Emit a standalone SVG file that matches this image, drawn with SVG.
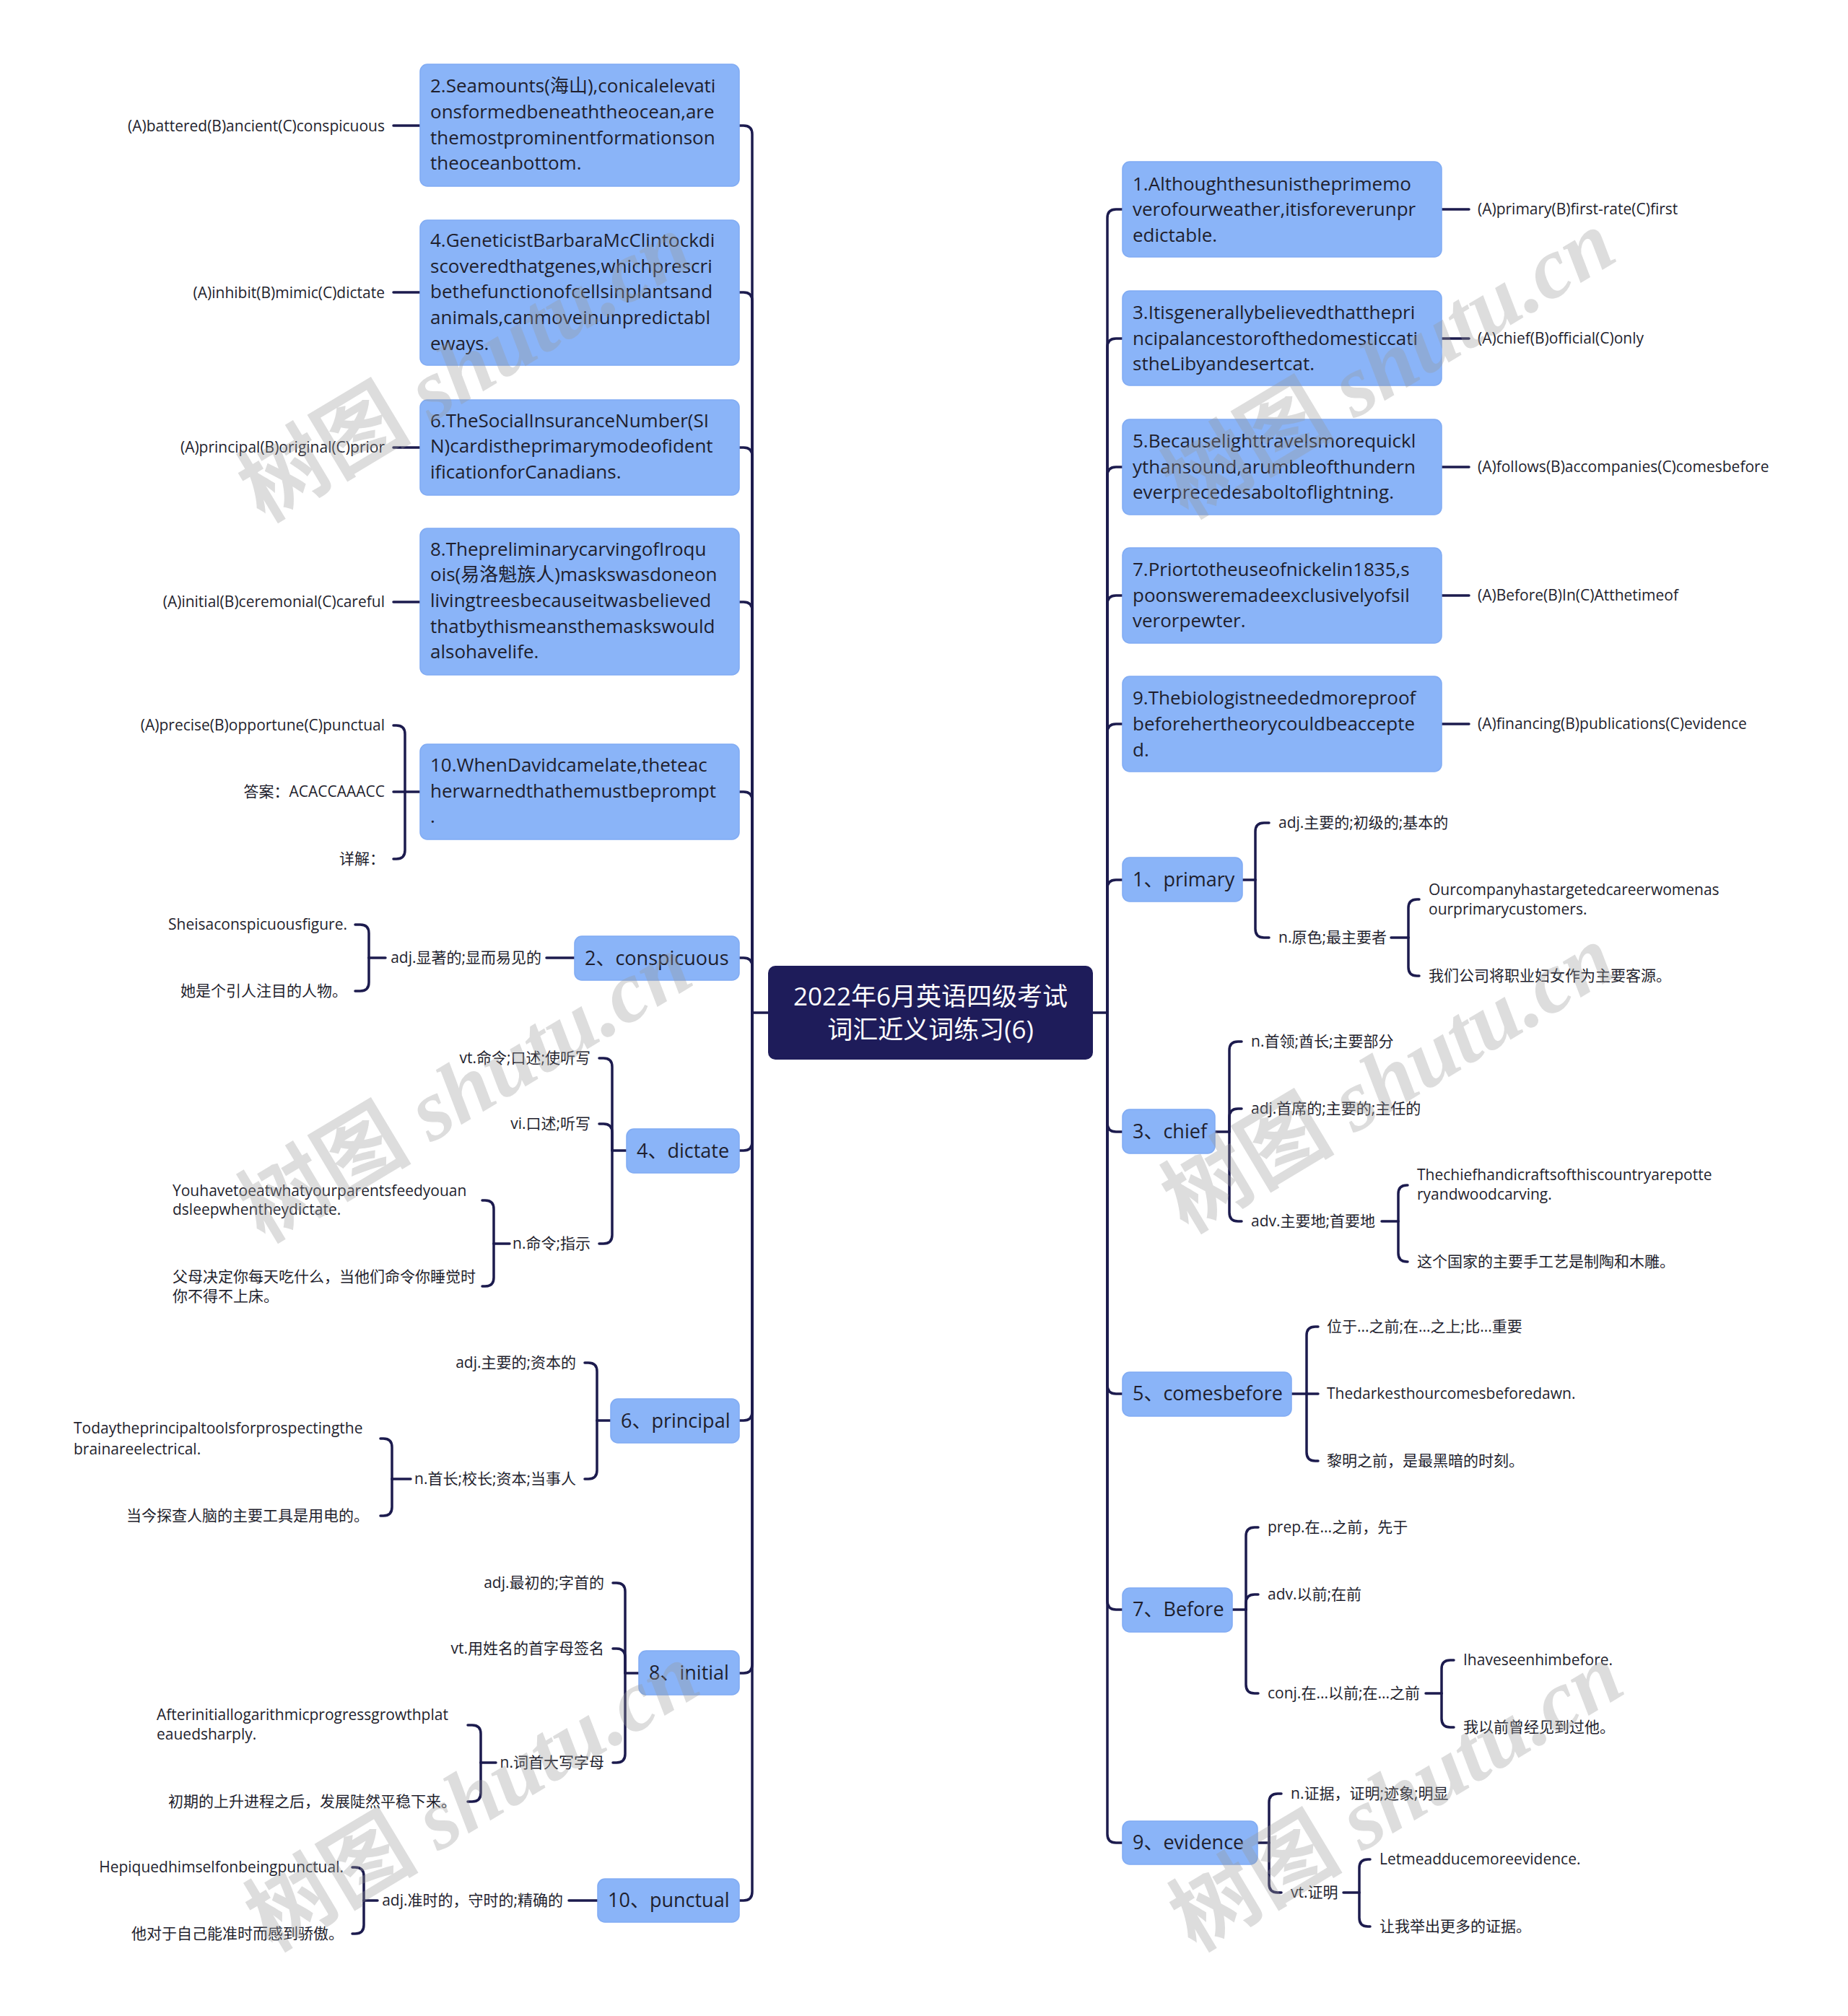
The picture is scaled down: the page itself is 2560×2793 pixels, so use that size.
<svg xmlns="http://www.w3.org/2000/svg" width="2560" height="2793" viewBox="0 0 2560 2793">
<style>
.bg{fill:#ffffff}
.box{fill:#8ab4f8;stroke:#80abf3;stroke-width:1.5}
.root{fill:#1e1c5a}
.t{font-family:"Open Sans","Noto Sans CJK SC",sans-serif;fill:#1f1f2e}
.s{font-size:21px}
.q{font-size:26px}
.k{font-size:27px}
.r{font-size:35px;fill:#ffffff;text-anchor:middle}
.e{text-anchor:end}
.conn path{fill:none;stroke:#1c1b4e;stroke-width:3.5;stroke-linecap:round}
.wm{font-family:"Liberation Serif","Noto Sans CJK SC",serif;font-size:120px;font-weight:bold;fill:#999999;opacity:0.33;text-anchor:middle}
</style>
<rect class="bg" x="0" y="0" width="2560" height="2793"/>

<g id="connectors" class="conn">
<path d="M1064,1403 H1042"/>
<path d="M1042,1403 V186 Q1042,174 1030,174 H1024"/>
<path d="M1042,1403 V417 Q1042,405 1030,405 H1024"/>
<path d="M1042,1403 V632 Q1042,620 1030,620 H1024"/>
<path d="M1042,1403 V846 Q1042,834 1030,834 H1024"/>
<path d="M1042,1403 V1109 Q1042,1097 1030,1097 H1024"/>
<path d="M1042,1403 V1339 Q1042,1327 1030,1327 H1024"/>
<path d="M1042,1403 V1582 Q1042,1594 1030,1594 H1024"/>
<path d="M1042,1403 V1956 Q1042,1968 1030,1968 H1024"/>
<path d="M1042,1403 V2306 Q1042,2318 1030,2318 H1024"/>
<path d="M1042,1403 V2621 Q1042,2633 1030,2633 H1024"/>
<path d="M1514,1403 H1534"/>
<path d="M1534,1403 V302 Q1534,290 1546,290 H1555"/>
<path d="M1534,1403 V481 Q1534,469 1546,469 H1555"/>
<path d="M1534,1403 V659 Q1534,647 1546,647 H1555"/>
<path d="M1534,1403 V837 Q1534,825 1546,825 H1555"/>
<path d="M1534,1403 V1015 Q1534,1003 1546,1003 H1555"/>
<path d="M1534,1403 V1231 Q1534,1219 1546,1219 H1555"/>
<path d="M1534,1403 V1556 Q1534,1568 1546,1568 H1555"/>
<path d="M1534,1403 V1919 Q1534,1931 1546,1931 H1555"/>
<path d="M1534,1403 V2218 Q1534,2230 1546,2230 H1555"/>
<path d="M1534,1403 V2541 Q1534,2553 1546,2553 H1555"/>
<path d="M582,174 H545"/>
<path d="M582,405 H545"/>
<path d="M582,620 H545"/>
<path d="M582,834 H545"/>
<path d="M1997,290 H2035"/>
<path d="M1997,469 H2035"/>
<path d="M1997,647 H2035"/>
<path d="M1997,825 H2035"/>
<path d="M1997,1003 H2035"/>
<path d="M582,1097 H561"/>
<path d="M561,1097 V1017 Q561,1005 549,1005 H545"/>
<path d="M561,1097 H545"/>
<path d="M561,1097 V1178 Q561,1190 549,1190 H545"/>
<path d="M796,1327 H757"/>
<path d="M534,1327 H511"/>
<path d="M511,1327 V1293 Q511,1281 499,1281 H492"/>
<path d="M511,1327 V1361 Q511,1373 499,1373 H492"/>
<path d="M868,1594 H848"/>
<path d="M848,1594 V1478 Q848,1466 836,1466 H830"/>
<path d="M848,1594 V1569 Q848,1557 836,1557 H830"/>
<path d="M848,1594 V1711 Q848,1723 836,1723 H830"/>
<path d="M706,1723 H684"/>
<path d="M684,1723 V1675 Q684,1663 672,1663 H668"/>
<path d="M684,1723 V1770 Q684,1782 672,1782 H668"/>
<path d="M846,1968 H827"/>
<path d="M827,1968 V1900 Q827,1888 815,1888 H810"/>
<path d="M827,1968 V2037 Q827,2049 815,2049 H810"/>
<path d="M569,2049 H543"/>
<path d="M543,2049 V2005 Q543,1993 531,1993 H527"/>
<path d="M543,2049 V2088 Q543,2100 531,2100 H527"/>
<path d="M885,2318 H866"/>
<path d="M866,2318 V2205 Q866,2193 854,2193 H849"/>
<path d="M866,2318 V2296 Q866,2284 854,2284 H849"/>
<path d="M866,2318 V2430 Q866,2442 854,2442 H849"/>
<path d="M687,2442 H666"/>
<path d="M666,2442 V2402 Q666,2390 654,2390 H648"/>
<path d="M666,2442 V2484 Q666,2496 654,2496 H648"/>
<path d="M828,2633 H788"/>
<path d="M523,2633 H504"/>
<path d="M504,2633 V2599 Q504,2587 492,2587 H488"/>
<path d="M504,2633 V2667 Q504,2679 492,2679 H488"/>
<path d="M1721,1219 H1739"/>
<path d="M1739,1219 V1152 Q1739,1140 1751,1140 H1758"/>
<path d="M1739,1219 V1287 Q1739,1299 1751,1299 H1758"/>
<path d="M1927,1299 H1951"/>
<path d="M1951,1299 V1258 Q1951,1246 1963,1246 H1966"/>
<path d="M1951,1299 V1340 Q1951,1352 1963,1352 H1966"/>
<path d="M1683,1568 H1703"/>
<path d="M1703,1568 V1455 Q1703,1443 1715,1443 H1720"/>
<path d="M1703,1568 V1548 Q1703,1536 1715,1536 H1720"/>
<path d="M1703,1568 V1680 Q1703,1692 1715,1692 H1720"/>
<path d="M1914,1692 H1937"/>
<path d="M1937,1692 V1654 Q1937,1642 1949,1642 H1950"/>
<path d="M1937,1692 V1736 Q1937,1748 1949,1748 H1950"/>
<path d="M1789,1931 H1810"/>
<path d="M1810,1931 V1850 Q1810,1838 1822,1838 H1826"/>
<path d="M1810,1931 H1826"/>
<path d="M1810,1931 V2012 Q1810,2024 1822,2024 H1826"/>
<path d="M1707,2230 H1726"/>
<path d="M1726,2230 V2128 Q1726,2116 1738,2116 H1743"/>
<path d="M1726,2230 V2221 Q1726,2209 1738,2209 H1743"/>
<path d="M1726,2230 V2334 Q1726,2346 1738,2346 H1743"/>
<path d="M1975,2346 H1997"/>
<path d="M1997,2346 V2312 Q1997,2300 2009,2300 H2014"/>
<path d="M1997,2346 V2381 Q1997,2393 2009,2393 H2014"/>
<path d="M1742,2553 H1758"/>
<path d="M1758,2553 V2497 Q1758,2485 1770,2485 H1775"/>
<path d="M1758,2553 V2610 Q1758,2622 1770,2622 H1775"/>
<path d="M1861,2622 H1883"/>
<path d="M1883,2622 V2588 Q1883,2576 1895,2576 H1898"/>
<path d="M1883,2622 V2657 Q1883,2669 1895,2669 H1898"/>
</g>

<g id="root-node">
<rect class="root" x="1064" y="1338" width="450" height="130" rx="10"/>
<text class="t r" x="1289" y="1393">2022年6月英语四级考试</text>
<text class="t r" x="1289" y="1439">词汇近义词练习(6)</text>
</g>

<!-- Left question boxes -->
<g id="q2">
<rect class="box" x="582" y="89" width="442" height="169" rx="10"/>
<text class="t q" x="596" y="128">2.Seamounts(海山),conicalelevati</text>
<text class="t q" x="596" y="164">onsformedbeneaththeocean,are</text>
<text class="t q" x="596" y="200">themostprominentformationson</text>
<text class="t q" x="596" y="235">theoceanbottom.</text>
</g>
<g id="q2-opt"><text class="t s e" x="533" y="182">(A)battered(B)ancient(C)conspicuous</text></g>

<g id="q4">
<rect class="box" x="582" y="305" width="442" height="201" rx="10"/>
<text class="t q" x="596" y="342">4.GeneticistBarbaraMcClintockdi</text>
<text class="t q" x="596" y="378">scoveredthatgenes,whichprescri</text>
<text class="t q" x="596" y="413">bethefunctionofcellsinplantsand</text>
<text class="t q" x="596" y="449">animals,canmoveinunpredictabl</text>
<text class="t q" x="596" y="485">eways.</text>
</g>
<g id="q4-opt"><text class="t s e" x="533" y="413">(A)inhibit(B)mimic(C)dictate</text></g>

<g id="q6">
<rect class="box" x="582" y="554" width="442" height="132" rx="10"/>
<text class="t q" x="596" y="592">6.TheSocialInsuranceNumber(SI</text>
<text class="t q" x="596" y="627">N)cardistheprimarymodeofident</text>
<text class="t q" x="596" y="663">ificationforCanadians.</text>
</g>
<g id="q6-opt"><text class="t s e" x="533" y="627">(A)principal(B)original(C)prior</text></g>

<g id="q8">
<rect class="box" x="582" y="732" width="442" height="203" rx="10"/>
<text class="t q" x="596" y="770">8.ThepreliminarycarvingofIroqu</text>
<text class="t q" x="596" y="805">ois(易洛魁族人)maskswasdoneon</text>
<text class="t q" x="596" y="841">livingtreesbecauseitwasbelieved</text>
<text class="t q" x="596" y="877">thatbythismeansthemaskswould</text>
<text class="t q" x="596" y="912">alsohavelife.</text>
</g>
<g id="q8-opt"><text class="t s e" x="533" y="841">(A)initial(B)ceremonial(C)careful</text></g>

<g id="q10">
<rect class="box" x="582" y="1031" width="442" height="132" rx="10"/>
<text class="t q" x="596" y="1069">10.WhenDavidcamelate,theteac</text>
<text class="t q" x="596" y="1105">herwarnedthathemustbeprompt</text>
<text class="t q" x="596" y="1140">.</text>
</g>
<g id="q10-opt"><text class="t s e" x="533" y="1012">(A)precise(B)opportune(C)punctual</text></g>
<g id="q10-ans"><text class="t s e" x="533" y="1104">答案：ACACCAAACC</text></g>
<g id="q10-exp"><text class="t s e" x="533" y="1197">详解：</text></g>

<!-- Left keyword nodes -->
<g id="w2">
<rect class="box" x="796" y="1297" width="228" height="61" rx="10"/>
<text class="t k" x="810" y="1337">2、conspicuous</text>
</g>
<g id="w2-adj"><text class="t s e" x="750" y="1334">adj.显著的;显而易见的</text></g>
<g id="w2-ex1"><text class="t s e" x="481" y="1288">Sheisaconspicuousfigure.</text></g>
<g id="w2-ex2"><text class="t s e" x="481" y="1380">她是个引人注目的人物。</text></g>

<g id="w4">
<rect class="box" x="868" y="1564" width="156" height="61" rx="10"/>
<text class="t k" x="882" y="1604">4、dictate</text>
</g>
<g id="w4-vt"><text class="t s e" x="818" y="1473">vt.命令;口述;使听写</text></g>
<g id="w4-vi"><text class="t s e" x="818" y="1564">vi.口述;听写</text></g>
<g id="w4-n"><text class="t s e" x="818" y="1730">n.命令;指示</text></g>
<g id="w4-ex1"><text class="t s" x="239" y="1657">Youhavetoeatwhatyourparentsfeedyouan</text><text class="t s" x="239" y="1683">dsleepwhentheydictate.</text></g>
<g id="w4-ex2"><text class="t s" x="239" y="1776">父母决定你每天吃什么，当他们命令你睡觉时</text><text class="t s" x="239" y="1803">你不得不上床。</text></g>

<g id="w6">
<rect class="box" x="846" y="1938" width="178" height="61" rx="10"/>
<text class="t k" x="860" y="1978">6、principal</text>
</g>
<g id="w6-adj"><text class="t s e" x="798" y="1895">adj.主要的;资本的</text></g>
<g id="w6-n"><text class="t s e" x="798" y="2056">n.首长;校长;资本;当事人</text></g>
<g id="w6-ex1"><text class="t s" x="102" y="1986">Todaytheprincipaltoolsforprospectingthe</text><text class="t s" x="102" y="2015">brainareelectrical.</text></g>
<g id="w6-ex2"><text class="t s e" x="511" y="2107">当今探查人脑的主要工具是用电的。</text></g>

<g id="w8">
<rect class="box" x="885" y="2287" width="139" height="61" rx="10"/>
<text class="t k" x="899" y="2327">8、initial</text>
</g>
<g id="w8-adj"><text class="t s e" x="837" y="2200">adj.最初的;字首的</text></g>
<g id="w8-vt"><text class="t s e" x="837" y="2291">vt.用姓名的首字母签名</text></g>
<g id="w8-n"><text class="t s e" x="837" y="2449">n.词首大写字母</text></g>
<g id="w8-ex1"><text class="t s" x="217" y="2383">Afterinitiallogarithmicprogressgrowthplat</text><text class="t s" x="217" y="2410">eauedsharply.</text></g>
<g id="w8-ex2"><text class="t s e" x="632" y="2503">初期的上升进程之后，发展陡然平稳下来。</text></g>

<g id="w10">
<rect class="box" x="828" y="2603" width="196" height="60" rx="10"/>
<text class="t k" x="842" y="2642">10、punctual</text>
</g>
<g id="w10-adj"><text class="t s e" x="780" y="2640">adj.准时的，守时的;精确的</text></g>
<g id="w10-ex1"><text class="t s e" x="476" y="2594">Hepiquedhimselfonbeingpunctual.</text></g>
<g id="w10-ex2"><text class="t s e" x="476" y="2686">他对于自己能准时而感到骄傲。</text></g>

<!-- Right question boxes -->
<g id="q1">
<rect class="box" x="1555" y="224" width="442" height="132" rx="10"/>
<text class="t q" x="1569" y="264">1.Althoughthesunistheprimemo</text>
<text class="t q" x="1569" y="299">verofourweather,itisforeverunpr</text>
<text class="t q" x="1569" y="335">edictable.</text>
</g>
<g id="q1-opt"><text class="t s" x="2047" y="297">(A)primary(B)first-rate(C)first</text></g>

<g id="q3">
<rect class="box" x="1555" y="403" width="442" height="131" rx="10"/>
<text class="t q" x="1569" y="442">3.Itisgenerallybelievedthatthepri</text>
<text class="t q" x="1569" y="478">ncipalancestorofthedomesticcati</text>
<text class="t q" x="1569" y="513">stheLibyandesertcat.</text>
</g>
<g id="q3-opt"><text class="t s" x="2047" y="476">(A)chief(B)official(C)only</text></g>

<g id="q5">
<rect class="box" x="1555" y="581" width="442" height="132" rx="10"/>
<text class="t q" x="1569" y="620">5.Becauselighttravelsmorequickl</text>
<text class="t q" x="1569" y="656">ythansound,arumbleofthundern</text>
<text class="t q" x="1569" y="691">everprecedesaboltoflightning.</text>
</g>
<g id="q5-opt"><text class="t s" x="2047" y="654">(A)follows(B)accompanies(C)comesbefore</text></g>

<g id="q7">
<rect class="box" x="1555" y="759" width="442" height="132" rx="10"/>
<text class="t q" x="1569" y="798">7.Priortotheuseofnickelin1835,s</text>
<text class="t q" x="1569" y="834">poonsweremadeexclusivelyofsil</text>
<text class="t q" x="1569" y="869">verorpewter.</text>
</g>
<g id="q7-opt"><text class="t s" x="2047" y="832">(A)Before(B)In(C)Atthetimeof</text></g>

<g id="q9">
<rect class="box" x="1555" y="937" width="442" height="132" rx="10"/>
<text class="t q" x="1569" y="976">9.Thebiologistneededmoreproof</text>
<text class="t q" x="1569" y="1012">beforehertheorycouldbeaccepte</text>
<text class="t q" x="1569" y="1048">d.</text>
</g>
<g id="q9-opt"><text class="t s" x="2047" y="1010">(A)financing(B)publications(C)evidence</text></g>

<!-- Right keyword nodes -->
<g id="w1">
<rect class="box" x="1555" y="1188" width="166" height="61" rx="10"/>
<text class="t k" x="1569" y="1228">1、primary</text>
</g>
<g id="w1-adj"><text class="t s" x="1771" y="1147">adj.主要的;初级的;基本的</text></g>
<g id="w1-n"><text class="t s" x="1771" y="1306">n.原色;最主要者</text></g>
<g id="w1-ex1"><text class="t s" x="1979" y="1240">Ourcompanyhastargetedcareerwomenas</text><text class="t s" x="1979" y="1267">ourprimarycustomers.</text></g>
<g id="w1-ex2"><text class="t s" x="1979" y="1359">我们公司将职业妇女作为主要客源。</text></g>

<g id="w3">
<rect class="box" x="1555" y="1537" width="128" height="61" rx="10"/>
<text class="t k" x="1569" y="1577">3、chief</text>
</g>
<g id="w3-n"><text class="t s" x="1733" y="1450">n.首领;酋长;主要部分</text></g>
<g id="w3-adj"><text class="t s" x="1733" y="1543">adj.首席的;主要的;主任的</text></g>
<g id="w3-adv"><text class="t s" x="1733" y="1699">adv.主要地;首要地</text></g>
<g id="w3-ex1"><text class="t s" x="1963" y="1635">Thechiefhandicraftsofthiscountryarepotte</text><text class="t s" x="1963" y="1662">ryandwoodcarving.</text></g>
<g id="w3-ex2"><text class="t s" x="1963" y="1755">这个国家的主要手工艺是制陶和木雕。</text></g>

<g id="w5">
<rect class="box" x="1555" y="1901" width="234" height="61" rx="10"/>
<text class="t k" x="1569" y="1940">5、comesbefore</text>
</g>
<g id="w5-m"><text class="t s" x="1838" y="1845">位于...之前;在...之上;比...重要</text></g>
<g id="w5-ex1"><text class="t s" x="1838" y="1938">Thedarkesthourcomesbeforedawn.</text></g>
<g id="w5-ex2"><text class="t s" x="1838" y="2031">黎明之前，是最黑暗的时刻。</text></g>

<g id="w7">
<rect class="box" x="1555" y="2200" width="152" height="61" rx="10"/>
<text class="t k" x="1569" y="2239">7、Before</text>
</g>
<g id="w7-prep"><text class="t s" x="1756" y="2123">prep.在...之前，先于</text></g>
<g id="w7-adv"><text class="t s" x="1756" y="2216">adv.以前;在前</text></g>
<g id="w7-conj"><text class="t s" x="1756" y="2353">conj.在...以前;在...之前</text></g>
<g id="w7-ex1"><text class="t s" x="2027" y="2307">Ihaveseenhimbefore.</text></g>
<g id="w7-ex2"><text class="t s" x="2027" y="2400">我以前曾经见到过他。</text></g>

<g id="w9">
<rect class="box" x="1555" y="2523" width="187" height="60" rx="10"/>
<text class="t k" x="1569" y="2562">9、evidence</text>
</g>
<g id="w9-n"><text class="t s" x="1788" y="2492">n.证据，证明;迹象;明显</text></g>
<g id="w9-vt"><text class="t s" x="1788" y="2629">vt.证明</text></g>
<g id="w9-ex1"><text class="t s" x="1911" y="2583">Letmeadducemoreevidence.</text></g>
<g id="w9-ex2"><text class="t s" x="1911" y="2676">让我举出更多的证据。</text></g>

<g id="watermarks">
<text class="wm" transform="translate(645,510) rotate(-31)" y="40">树图 <tspan font-style="italic">shutu.cn</tspan></text>
<text class="wm" transform="translate(645,1508) rotate(-31)" y="40">树图 <tspan font-style="italic">shutu.cn</tspan></text>
<text class="wm" transform="translate(655,2490) rotate(-31)" y="40">树图 <tspan font-style="italic">shutu.cn</tspan></text>
<text class="wm" transform="translate(1924,505) rotate(-31)" y="40">树图 <tspan font-style="italic">shutu.cn</tspan></text>
<text class="wm" transform="translate(1924,1495) rotate(-31)" y="40">树图 <tspan font-style="italic">shutu.cn</tspan></text>
<text class="wm" transform="translate(1935,2490) rotate(-31)" y="40">树图 <tspan font-style="italic">shutu.cn</tspan></text>
</g>
</svg>
